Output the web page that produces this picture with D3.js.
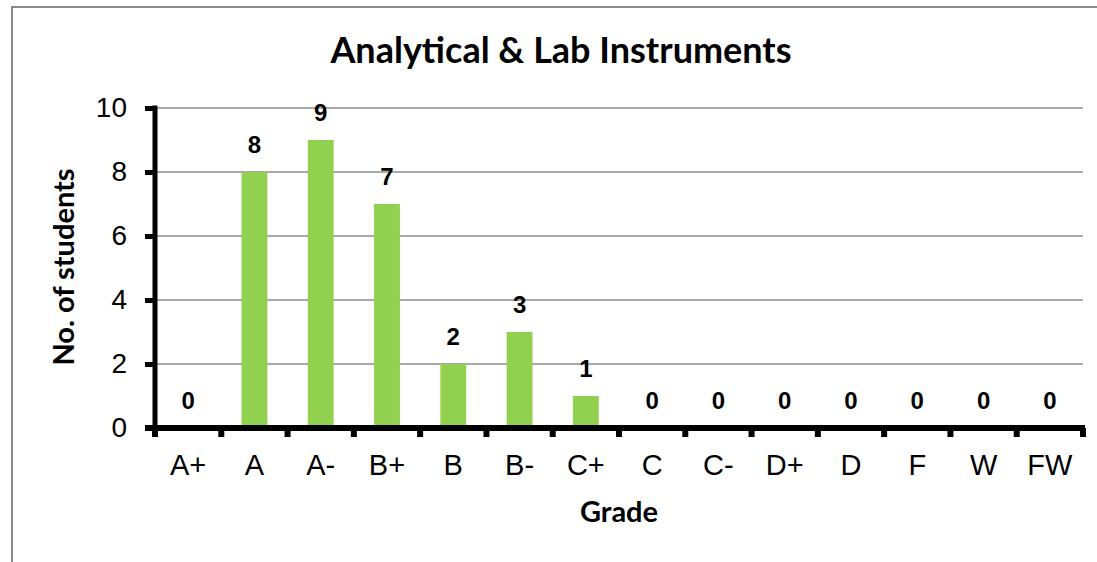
<!DOCTYPE html>
<html>
<head>
<meta charset="utf-8">
<script src="https://cdn.jsdelivr.net/npm/d3@7"></script>
<style>
  body { margin: 0; background: #fff; }
  svg { display: block; }
</style>
</head>
<body>
<svg id="svg" width="1097" height="562"></svg>
<script>
// grade distribution
var grades = ['A+', 'A', 'A-', 'B+', 'B', 'B-', 'C+', 'C', 'C-', 'D+', 'D', 'F', 'W', 'FW'];
var students = [0, 8, 9, 7, 2, 3, 1, 0, 0, 0, 0, 0, 0, 0];
var yTicks = [0, 2, 4, 6, 8, 10];

var width = 1097;
var height = 562;

var plot = { left: 155, right: 1083, top: 108, bottom: 428 };

var svg = d3.select('svg');

// outer chart frame
svg.append('rect')
    .attr('x', 12)
    .attr('y', 7)
    .attr('width', 1200)
    .attr('height', 700)
    .attr('fill', 'none')
    .attr('stroke', '#8a8a8a')
    .attr('stroke-width', 2);

var x = d3.scaleBand()
    .domain(grades)
    .range([plot.left, plot.right]);

var y = d3.scaleLinear()
    .domain([0, 10])
    .range([plot.bottom, plot.top]);

// gridlines
svg.append('g')
    .selectAll('line')
    .data(yTicks.filter(function(d){ return d > 0; }))
    .enter()
    .append('line')
    .attr('x1', plot.left)
    .attr('x2', plot.right)
    .attr('y1', function(d){ return y(d); })
    .attr('y2', function(d){ return y(d); })
    .attr('stroke', '#8c8c8c')
    .attr('stroke-width', 1.5);

// bars
var barW = x.bandwidth() * 0.39;
svg.append('g')
    .selectAll('rect')
    .data(grades)
    .enter()
    .append('rect')
    .attr('x', function(d){ return x(d) + (x.bandwidth() - barW) / 2; })
    .attr('y', function(d, i){ return y(students[i]); })
    .attr('width', barW)
    .attr('height', function(d, i){ return y(0) - y(students[i]); })
    .attr('fill', '#92d050');

// value labels
svg.append('g')
    .selectAll('text')
    .data(grades)
    .enter()
    .append('text')
    .attr('x', function(d){ return x(d) + x.bandwidth() / 2; })
    .attr('y', function(d, i){ return y(students[i]) - 19; })
    .attr('text-anchor', 'middle')
    .attr('font-family', 'Liberation Sans, Arial, sans-serif')
    .attr('font-weight', 'bold')
    .attr('font-size', 24)
    .text(function(d, i){ return students[i]; });

// y axis
var yAxis = svg.append('g')
    .attr('transform', 'translate(' + plot.left + ',0)')
    .call(d3.axisLeft(y).tickValues(yTicks).tickSize(10).tickPadding(18));
yAxis.select('.domain').attr('stroke', '#000').attr('stroke-width', 5)
    .attr('d', 'M0,' + (plot.top - 2.5) + 'V' + (plot.bottom + 2.5));
yAxis.selectAll('.tick line').attr('stroke', '#000').attr('stroke-width', 5);
yAxis.selectAll('.tick text')
    .attr('font-family', 'Liberation Sans, Arial, sans-serif')
    .attr('font-size', 28)
    .attr('fill', '#000');

// x axis, ticks on category boundaries
var xAxis = svg.append('g')
    .attr('transform', 'translate(0,' + plot.bottom + ')');
xAxis.append('line')
    .attr('x1', plot.left - 10)
    .attr('x2', plot.right + 2)
    .attr('stroke', '#000')
    .attr('stroke-width', 6);
var bounds = grades.map(function(d){ return x(d); }).concat([plot.right]);
xAxis.selectAll('.bt')
    .data(bounds)
    .enter()
    .append('line')
    .attr('class', 'bt')
    .attr('x1', function(d){ return d; })
    .attr('x2', function(d){ return d; })
    .attr('y1', 0)
    .attr('y2', 9)
    .attr('stroke', '#000')
    .attr('stroke-width', 6);
xAxis.selectAll('.gl')
    .data(grades)
    .enter()
    .append('text')
    .attr('class', 'gl')
    .attr('x', function(d){ return x(d) + x.bandwidth() / 2; })
    .attr('y', 47)
    .attr('text-anchor', 'middle')
    .attr('font-family', 'Liberation Sans, Arial, sans-serif')
    .attr('font-size', 29)
    .text(function(d){ return d; });

// titles
svg.append('text')
    .attr('x', 561)
    .attr('y', 63)
    .attr('text-anchor', 'middle')
    .attr('font-family', 'Lato, sans-serif')
    .attr('font-weight', 'bold')
    .attr('font-size', 36)
    .text('Analytical & Lab Instruments');

svg.append('text')
    .attr('x', 619)
    .attr('y', 522)
    .attr('text-anchor', 'middle')
    .attr('font-family', 'Lato, sans-serif')
    .attr('font-weight', 'bold')
    .attr('font-size', 29)
    .text('Grade');

svg.append('text')
    .attr('transform', 'translate(74,267) rotate(-90)')
    .attr('text-anchor', 'middle')
    .attr('font-family', 'Lato, sans-serif')
    .attr('font-weight', 'bold')
    .attr('font-size', 29)
    .text('No. of students');
</script>
</body>
</html>
